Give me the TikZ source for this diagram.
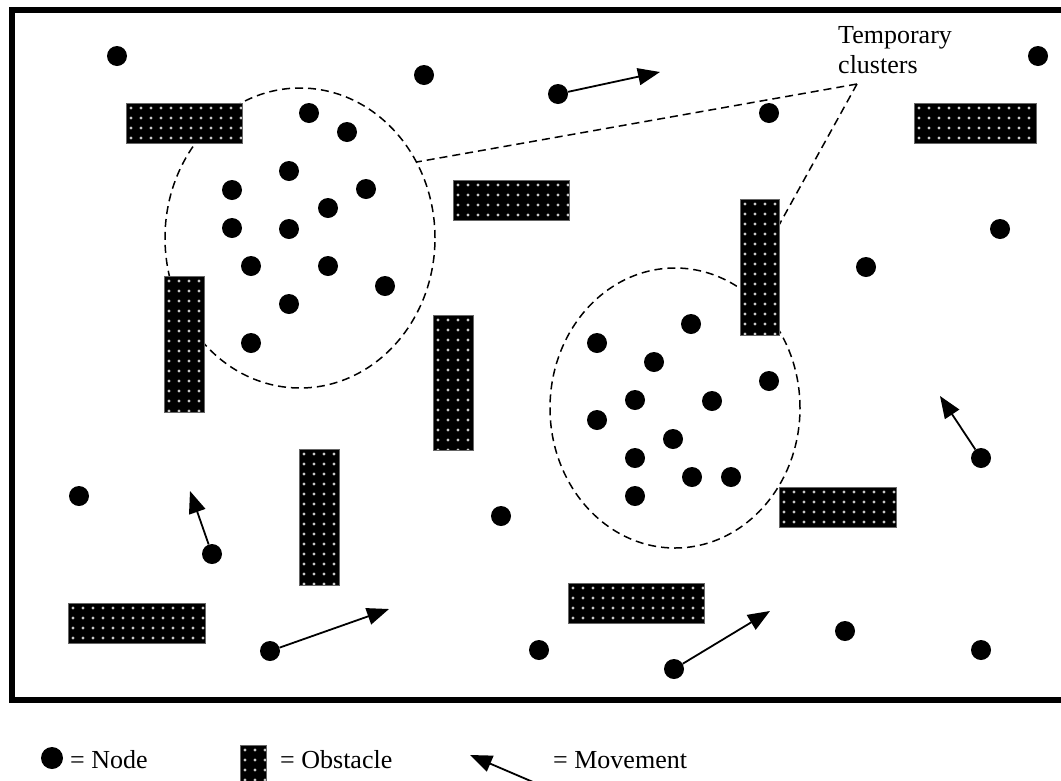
\documentclass[tikz,border=0pt]{standalone}
\usepackage{fontspec}
\setmainfont{Liberation Serif}
\usetikzlibrary{arrows.meta,shapes.geometric}

\tikzset{
  mobile/.style={circle, fill=black, inner sep=0pt, minimum size=20pt},
  obst/.style={rectangle, fill=black, draw=black!60, line width=0.8pt, inner sep=0pt, outer sep=0pt,
    path picture={
      \foreach \i in {0,...,14}
        \foreach \j in {0,...,14}
          \fill[white!78!black] ([shift={(\i*10+5,\j*10+5)}]path picture bounding box.north west) circle (1.6);
    }},
  cluster/.style={ellipse, draw=black, line width=1.5pt, dash pattern=on 8pt off 5pt, inner sep=0pt},
  callout/.style={line width=1.5pt, dash pattern=on 8pt off 5pt},
  move/.style={line width=1.8pt, -{Triangle[length=22pt,width=17pt]}},
  txt/.style={font=\fontsize{26}{30}\selectfont, inner sep=0pt},
}

\begin{document}
\begin{tikzpicture}[x=1pt,y=-1pt]
\useasboundingbox (0,0) rectangle (1061,780);
\clip (0,0) rectangle (1061,780);

% outer frame of the field
\draw[line width=6pt] (12,10) rectangle (1080,700);

% temporary clusters (drawn first, obstacles cover them)
\node[cluster, minimum width=270, minimum height=300] (c1) at (300,238) {};
\node[cluster, minimum width=250, minimum height=280] (c2) at (675,408) {};

% label with callouts
\node[txt, anchor=north west, align=left] (lbl) at (838,26) {Temporary\\clusters};
\coordinate (cp) at (857,84);
\draw[callout] (cp) -- (c1.33.5);
\draw[callout] (cp) -- (c2.60);

% obstacles
\node[obst, minimum width=116, minimum height=40] (o1) at (184,123) {};
\node[obst, minimum width=122, minimum height=40] (o2) at (975,123) {};
\node[obst, minimum width=116, minimum height=40] (o3) at (511,200) {};
\node[obst, minimum width=39, minimum height=136] (o4) at (759.5,267) {};
\node[obst, minimum width=40, minimum height=136] (o5) at (184,344) {};
\node[obst, minimum width=40, minimum height=135] (o6) at (453,382.5) {};
\node[obst, minimum width=40, minimum height=136] (o7) at (319,517) {};
\node[obst, minimum width=117, minimum height=40] (o8) at (837.5,507) {};
\node[obst, minimum width=136, minimum height=40] (o9) at (636,603) {};
\node[obst, minimum width=137, minimum height=40] (o10) at (136.5,623) {};

% free nodes
\node[mobile] (n1) at (117,56) {};
\node[mobile] (n2) at (424,75) {};
\node[mobile] (n3) at (558,94) {};
\node[mobile] (n4) at (1038,56) {};
\node[mobile] (n5) at (769,113) {};
\node[mobile] (n6) at (1000,229) {};
\node[mobile] (n7) at (866,267) {};
\node[mobile] (n8) at (981,458) {};
\node[mobile] (n9) at (79,496) {};
\node[mobile] (n10) at (212,554) {};
\node[mobile] (n11) at (501,516) {};
\node[mobile] (n12) at (270,651) {};
\node[mobile] (n13) at (539,650) {};
\node[mobile] (n14) at (674,669) {};
\node[mobile] (n15) at (845,631) {};
\node[mobile] (n16) at (981,650) {};

% nodes in the first cluster
\foreach \p [count=\k] in {(309,113),(347,132),(289,171),(232,190),(366,189),(328,208),(232,228),
    (289,229),(251,266),(328,266),(385,286),(289,304),(251,343)}
  \node[mobile] (a\k) at \p {};

% nodes in the second cluster
\foreach \p [count=\k] in {(691,324),(597,343),(654,362),(769,381),(635,400),(712,401),(597,420),
    (673,439),(635,458),(692,477),(731,477),(635,496)}
  \node[mobile] (b\k) at \p {};

% movement vectors
\coordinate (m3) at (660,72);
\coordinate (m8) at (940,396);
\coordinate (m10) at (190,491);
\coordinate (m12) at (389,609);
\coordinate (m14) at (770,611);
\draw[move] (n3) -- (m3);
\draw[move] (n8) -- (m8);
\draw[move] (n10) -- (m10);
\draw[move] (n12) -- (m12);
\draw[move] (n14) -- (m14);

% legend
\node[mobile, minimum size=22pt] (ln) at (52,758) {};
\node[txt, anchor=base west] (lnt) at (70,768) {= Node};
\node[obst, minimum width=26, minimum height=46] (lo) at (253,768) {};
\node[txt, anchor=base west] (lot) at (280,768) {= Obstacle};
\coordinate (lmt) at (540,785);
\coordinate (lmh) at (470,755);
\draw[move] (lmt) -- (lmh);
\node[txt, anchor=base west] (lmx) at (553,768) {= Movement};
\end{tikzpicture}
\end{document}
